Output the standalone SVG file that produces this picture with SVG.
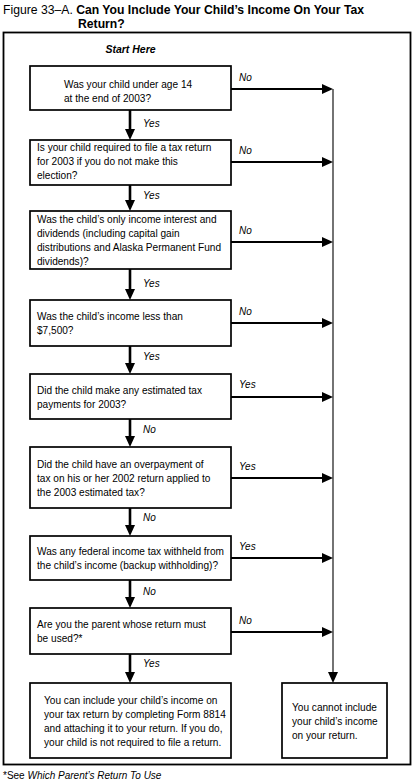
<svg xmlns="http://www.w3.org/2000/svg" width="412" height="784" viewBox="0 0 412 784">
<style>
text{font-family:"Liberation Sans",Arial,sans-serif;fill:#000}
.t{font-size:10.1px}
.lab{font-size:10px;font-style:italic}
.box{fill:#fff;stroke:#000;stroke-width:1.7}
.frame{fill:none;stroke:#000;stroke-width:1.8}
.v{stroke:#000;stroke-width:2.6;fill:none}
.h{stroke:#000;stroke-width:1.8;fill:none}
.thin{stroke:#000;stroke-width:1.1;fill:none}
.head{fill:#000}
</style>
<text x="3" y="14" style="font-size:12.2px">Figure 33–A. <tspan font-weight="bold">Can You Include Your Child’s Income On Your Tax</tspan></text>
<text x="78" y="28" style="font-size:12.2px;font-weight:bold">Return?</text>
<rect class="frame" x="3.5" y="32.5" width="407" height="732"/>
<text x="130.5" y="53" text-anchor="middle" style="font-size:10.5px;font-weight:bold;font-style:italic">Start Here</text>

<g id="connectors">
  <line class="thin" x1="333" y1="89" x2="333" y2="673"/>
  <polygon class="head" points="328,672 338,672 333,683"/>
  <g id="down-arrows">
    <line class="v" x1="130" y1="110" x2="130" y2="131"/><polygon class="head" points="125,129 135,129 130,140"/>
    <line class="v" x1="130" y1="185" x2="130" y2="202"/><polygon class="head" points="125,200 135,200 130,211"/>
    <line class="v" x1="130" y1="269" x2="130" y2="291"/><polygon class="head" points="125,289 135,289 130,300"/>
    <line class="v" x1="130" y1="346" x2="130" y2="365"/><polygon class="head" points="125,363 135,363 130,374"/>
    <line class="v" x1="130" y1="419" x2="130" y2="438"/><polygon class="head" points="125,436 135,436 130,447"/>
    <line class="v" x1="130" y1="508" x2="130" y2="527"/><polygon class="head" points="125,525 135,525 130,536"/>
    <line class="v" x1="130" y1="580" x2="130" y2="599"/><polygon class="head" points="125,597 135,597 130,608"/>
    <line class="v" x1="130" y1="654" x2="130" y2="674"/><polygon class="head" points="125,672 135,672 130,683"/>
  </g>
  <g id="right-arrows">
    <line class="h" x1="231" y1="89" x2="323" y2="89"/><polygon class="head" points="322,84 322,94 333,89"/>
    <line class="h" x1="231" y1="162" x2="323" y2="162"/><polygon class="head" points="322,157 322,167 333,162"/>
    <line class="h" x1="231" y1="242" x2="323" y2="242"/><polygon class="head" points="322,237 322,247 333,242"/>
    <line class="h" x1="231" y1="323" x2="323" y2="323"/><polygon class="head" points="322,318 322,328 333,323"/>
    <line class="h" x1="231" y1="397" x2="323" y2="397"/><polygon class="head" points="322,392 322,402 333,397"/>
    <line class="h" x1="231" y1="478" x2="323" y2="478"/><polygon class="head" points="322,473 322,483 333,478"/>
    <line class="h" x1="231" y1="558" x2="323" y2="558"/><polygon class="head" points="322,553 322,563 333,558"/>
    <line class="h" x1="231" y1="632" x2="323" y2="632"/><polygon class="head" points="322,627 322,637 333,632"/>
  </g>
  <g id="labels">
    <text class="lab" x="143" y="127">Yes</text>
    <text class="lab" x="143" y="199">Yes</text>
    <text class="lab" x="143" y="287">Yes</text>
    <text class="lab" x="143" y="360">Yes</text>
    <text class="lab" x="143" y="433">No</text>
    <text class="lab" x="143" y="521">No</text>
    <text class="lab" x="143" y="595">No</text>
    <text class="lab" x="143" y="667">Yes</text>
    <text class="lab" x="239" y="81">No</text>
    <text class="lab" x="239" y="154">No</text>
    <text class="lab" x="239" y="234">No</text>
    <text class="lab" x="239" y="315">No</text>
    <text class="lab" x="239" y="388">Yes</text>
    <text class="lab" x="239" y="470">Yes</text>
    <text class="lab" x="239" y="550">Yes</text>
    <text class="lab" x="239" y="624">No</text>
  </g>
</g>

<g id="q1"><rect class="box" x="30" y="66" width="201" height="44"/>
<text class="t" x="64" y="88">Was your child under age 14</text>
<text class="t" x="64" y="102">at the end of 2003?</text></g>

<g id="q2"><rect class="box" x="30" y="140" width="201" height="45"/>
<text class="t" x="37" y="151">Is your child required to file a tax return</text>
<text class="t" x="37" y="165">for 2003 if you do not make this</text>
<text class="t" x="37" y="179">election?</text></g>

<g id="q3"><rect class="box" x="30" y="211" width="201" height="58"/>
<text class="t" x="37" y="223">Was the child’s only income interest and</text>
<text class="t" x="37" y="237">dividends (including capital gain</text>
<text class="t" x="37" y="251">distributions and Alaska Permanent Fund</text>
<text class="t" x="37" y="265">dividends)?</text></g>

<g id="q4"><rect class="box" x="30" y="300" width="201" height="46"/>
<text class="t" x="37" y="320">Was the child’s income less than</text>
<text class="t" x="37" y="334">$7,500?</text></g>

<g id="q5"><rect class="box" x="30" y="374" width="201" height="45"/>
<text class="t" x="37" y="394">Did the child make any estimated tax</text>
<text class="t" x="37" y="408">payments for 2003?</text></g>

<g id="q6"><rect class="box" x="30" y="447" width="201" height="61"/>
<text class="t" x="37" y="468">Did the child have an overpayment of</text>
<text class="t" x="37" y="482">tax on his or her 2002 return applied to</text>
<text class="t" x="37" y="496">the 2003 estimated tax?</text></g>

<g id="q7"><rect class="box" x="30" y="536" width="201" height="44"/>
<text class="t" x="37" y="555">Was any federal income tax withheld from</text>
<text class="t" x="37" y="569">the child’s income (backup withholding)?</text></g>

<g id="q8"><rect class="box" x="30" y="608" width="201" height="46"/>
<text class="t" x="37" y="628">Are you the parent whose return must</text>
<text class="t" x="37" y="642">be used?*</text></g>

<g id="yes-result"><rect class="box" x="30" y="683" width="201" height="75"/>
<text class="t" x="44" y="704">You can include your child’s income on</text>
<text class="t" x="44" y="718">your tax return by completing Form 8814</text>
<text class="t" x="44" y="732">and attaching it to your return. If you do,</text>
<text class="t" x="44" y="746">your child is not required to file a return.</text></g>

<g id="no-result"><rect class="box" x="282" y="683" width="105" height="75"/>
<text class="t" x="292" y="711">You cannot include</text>
<text class="t" x="292" y="725">your child’s income</text>
<text class="t" x="292" y="739">on your return.</text></g>

<text x="3" y="779" style="font-size:10px">*See <tspan font-style="italic">Which Parent’s Return To Use</tspan></text>
</svg>
